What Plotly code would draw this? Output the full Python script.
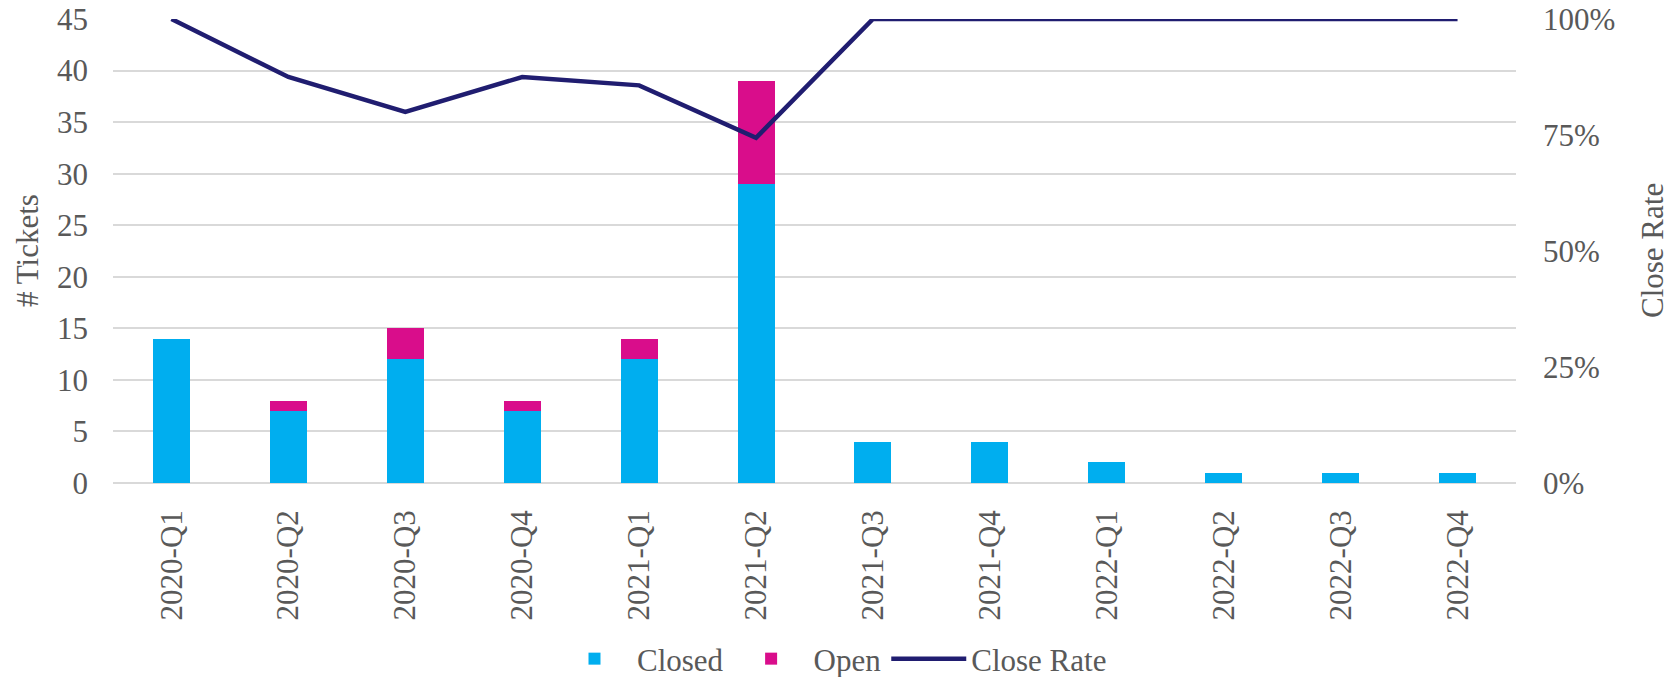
import plotly.graph_objects as go

quarters = ["2020-Q1", "2020-Q2", "2020-Q3", "2020-Q4", "2021-Q1", "2021-Q2",
            "2021-Q3", "2021-Q4", "2022-Q1", "2022-Q2", "2022-Q3", "2022-Q4"]
closed = [14, 7, 12, 7, 12, 29, 4, 4, 2, 1, 1, 1]
open_ = [0, 1, 3, 1, 2, 10, 0, 0, 0, 0, 0, 0]
close_rate = [1.0, 0.875, 0.80, 0.875, 0.857, 0.744, 1.0, 1.0, 1.0, 1.0, 1.0, 1.0]

FONT = "Times New Roman, Liberation Serif, serif"
GREY = "#595959"
FS = 31

W, H = 1677, 677
L, T = 113, 19
R = W - 1516
B = H - 483
PLOT_H = H - T - B
PLOT_W = W - L - R

fig = go.Figure()
fig.add_trace(go.Bar(x=quarters, y=closed, name="Closed", marker_color="#00AEEF",
                     marker_line_width=0))
fig.add_trace(go.Bar(x=quarters, y=open_, name="Open", marker_color="#D90D8B",
                     marker_line_width=0))
fig.add_trace(go.Scatter(x=quarters, y=close_rate, name="Close Rate", mode="lines",
                         line=dict(color="#201D70", width=4.5), yaxis="y2"))

fig.update_layout(
    width=W, height=H,
    margin=dict(l=L, r=R, t=T, b=B, autoexpand=False),
    barmode="stack", bargap=0.683,
    plot_bgcolor="white", paper_bgcolor="white",
    font=dict(family=FONT, size=FS, color=GREY),
    showlegend=True,
    legend=dict(orientation="h", x=(832 - L) / PLOT_W, xanchor="center",
                y=-(659 - (H - B)) / PLOT_H, yanchor="middle",
                font=dict(family=FONT, size=FS, color=GREY), traceorder="normal",
                itemwidth=75),
    xaxis=dict(showgrid=False, tickangle=-90, ticks="", ticklabelstandoff=20,
               showline=False, zeroline=False, automargin=False,
               tickfont=dict(family=FONT, size=FS, color=GREY)),
    yaxis=dict(range=[0, 45], dtick=5, showgrid=True, gridcolor="#D9D9D9", gridwidth=1.5,
               zeroline=True, zerolinecolor="#D9D9D9", zerolinewidth=1.5, automargin=False,
               ticklabeloverflow="allow",
               ticks="", ticklabelstandoff=24, tickfont=dict(family=FONT, size=FS, color=GREY)),
    yaxis2=dict(range=[0, 1], tickvals=[0, 0.25, 0.5, 0.75, 1.0], tickformat=".0%",
                overlaying="y", side="right", showgrid=False, zeroline=False, automargin=False,
                ticklabeloverflow="allow",
                ticks="", ticklabelstandoff=26, tickfont=dict(family=FONT, size=FS, color=GREY)),
    annotations=[
        dict(text="# Tickets", x=0, y=0.5, xref="paper", yref="paper", showarrow=False,
             textangle=-90, font=dict(size=FS, color=GREY, family=FONT),
             xanchor="center", yanchor="middle", xshift=27 - L),
        dict(text="Close Rate", x=1.0, y=0.5, xref="paper", yref="paper", showarrow=False,
             textangle=-90, font=dict(size=FS, color=GREY, family=FONT),
             xanchor="center", yanchor="middle", xshift=1652 - 1516),
    ],
)

# remove the browser's default 8px body margin so the figure fills the window
fig.write_html("out.html", config={"displayModeBar": False},
               post_script="document.body.style.margin='0';document.body.style.overflow='hidden';")
